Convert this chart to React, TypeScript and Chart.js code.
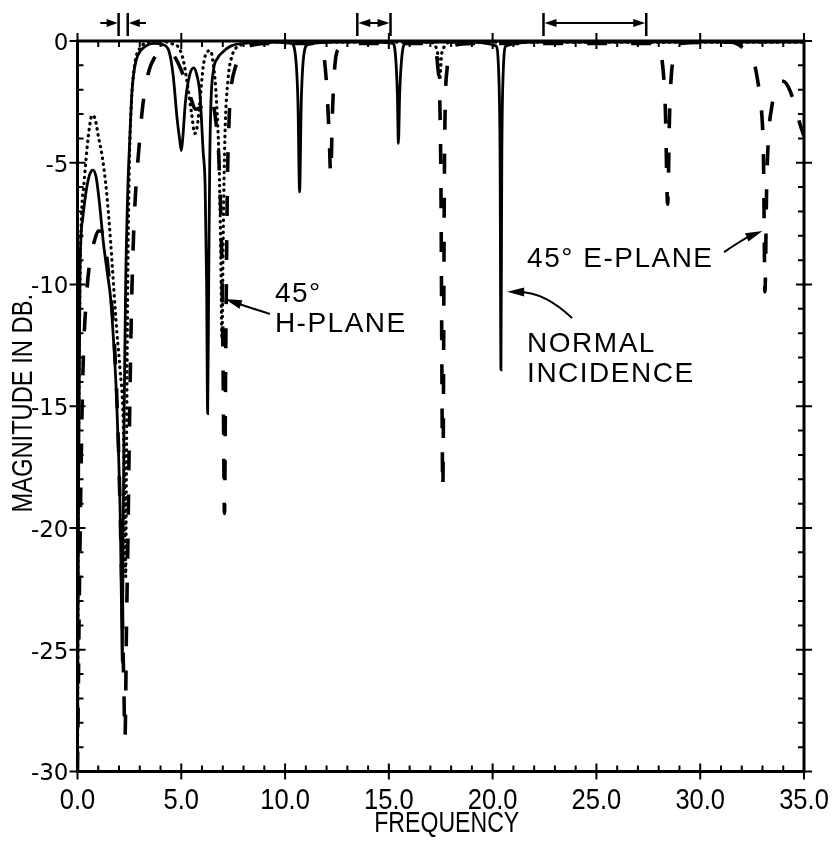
import { useEffect, useRef } from "react";
import { Chart, registerables } from "chart.js";

Chart.register(...registerables);

// ---- axis ticks ----
const xTickValues = [0, 5, 10, 15, 20, 25, 30, 35];
const yTickValues = [0, -5, -10, -15, -20, -25, -30];
const xTitle = "FREQUENCY";
const yTitle = "MAGNITUDE IN DB.";

// ---- NORMAL INCIDENCE (solid) ----
const normalX = [0, 0.05, 0.12, 0.25, 0.41, 0.58, 0.74, 0.9, 1.05, 1.25, 1.45, 1.6, 1.75, 1.87, 1.98, 2.07, 2.13, 2.16, 2.2, 2.25, 2.32, 2.42, 2.52, 2.63, 2.75, 2.9, 3.3, 3.7, 4.1, 4.4, 4.6, 4.8, 4.93, 5.0, 5.07, 5.2, 5.4, 5.6, 5.75, 5.9, 6.05, 6.15, 6.22, 6.27, 6.32, 6.37, 6.43, 6.55, 6.75, 7.0, 7.4, 8.0, 9.0, 10.3, 10.5, 10.62, 10.7, 10.78, 10.9, 11.1, 12.5, 14.0, 15.2, 15.33, 15.41, 15.46, 15.52, 15.62, 15.8, 17.5, 19.0, 20.15, 20.3, 20.36, 20.4, 20.44, 20.5, 20.65, 22.0, 25.0, 28.0, 31.0, 33.0, 35.0];
const normalY = [-30, -19, -9.5, -7.3, -6.2, -5.5, -5.3, -5.6, -6.6, -8.3, -9.6, -10.6, -12.5, -14.4, -17, -20, -24, -25.5, -20, -15, -10, -6.2, -4, -2, -1.1, -0.6, -0.2, -0.1, -0.15, -0.4, -1.35, -3.2, -4.1, -4.5, -4, -2.5, -1.4, -1.1, -1.4, -2.2, -4.5, -6, -10, -15.3, -10, -5, -2.5, -1.2, -0.7, -0.45, -0.2, -0.1, -0.05, -0.1, -0.6, -2.5, -6.2, -2.5, -0.6, -0.15, -0.05, -0.05, -0.1, -0.7, -2.2, -4.2, -2.2, -0.7, -0.1, -0.05, -0.05, -0.2, -1.5, -5, -13.5, -5, -1.5, -0.2, -0.05, -0.05, -0.05, -0.05, -0.05, -0.05];

// ---- 45° H-PLANE (dotted) ----
const hPlaneX = [0, 0.05, 0.12, 0.2, 0.3, 0.45, 0.6, 0.7, 0.85, 1.0, 1.2, 1.4, 1.6, 1.75, 1.9, 2.05, 2.2, 2.28, 2.32, 2.36, 2.42, 2.5, 2.6, 2.75, 3.0, 3.5, 4.0, 4.5, 4.9, 5.1, 5.3, 5.5, 5.65, 5.75, 5.9, 6.05, 6.2, 6.4, 6.55, 6.7, 6.82, 6.9, 6.96, 7.02, 7.1, 7.25, 7.45, 7.8, 8.5, 12.0, 17.0, 17.35, 17.45, 17.55, 18.0, 22.0, 28.0, 35.0];
const hPlaneY = [-30, -17, -10, -7, -6.0, -4.5, -3.4, -3.05, -3.2, -3.9, -4.8, -6.2, -8.3, -10.2, -12, -13.5, -15.5, -19, -22, -17, -10, -5, -2.5, -1.0, -0.3, -0.05, 0, -0.1, -0.3, -0.8, -1.8, -3.0, -3.8, -3.6, -2.5, -1.1, -0.5, -0.4, -1.0, -2.5, -5, -8.5, -12.2, -8, -4, -1.6, -0.6, -0.2, -0.05, -0.05, -0.05, -0.5, -1.6, -0.5, -0.05, -0.05, -0.05, -0.05];

// ---- 45° E-PLANE (dashed) ----
const ePlaneX = [0, 0.1, 0.25, 0.45, 0.65, 0.82, 1.0, 1.15, 1.35, 1.55, 1.75, 1.95, 2.1, 2.22, 2.29, 2.36, 2.42, 2.5, 2.6, 2.7, 2.8, 2.95, 3.1, 3.25, 3.45, 3.7, 4.0, 4.3, 4.6, 5.0, 5.4, 5.7, 5.95, 6.2, 6.45, 6.65, 6.82, 6.95, 7.02, 7.08, 7.14, 7.22, 7.3, 7.38, 7.6, 8.0, 8.5, 9.5, 11.6, 11.85, 12.0, 12.12, 12.2, 12.28, 12.4, 12.6, 13.0, 17.1, 17.35, 17.5, 17.6, 17.68, 17.8, 18.1, 19.0, 27.9, 28.15, 28.32, 28.43, 28.53, 28.7, 29.0, 31.5, 31.85, 32.15, 32.4, 32.6, 32.8, 32.95, 33.05, 33.12, 33.2, 33.3, 33.43, 33.7, 34.0, 34.25, 34.55, 34.8, 35.0];
const ePlaneY = [-30, -22, -14, -10.3, -8.8, -8.2, -7.8, -7.8, -8.5, -10, -12, -16, -21, -26, -28.6, -24, -21, -16, -11, -8, -6.2, -4.5, -3, -2, -1.2, -0.7, -0.45, -0.4, -0.55, -1.2, -2.2, -2.8, -2.7, -2.3, -2.4, -3.2, -5, -9, -14, -19.4, -13, -6, -3.3, -2.1, -1.1, -0.4, -0.15, -0.1, -0.1, -0.5, -1.8, -3.8, -5.5, -3, -1, -0.3, -0.1, -0.1, -1.0, -5, -18.4, -5, -1.2, -0.2, -0.1, -0.1, -0.7, -2.8, -6.7, -2.8, -0.7, -0.1, -0.05, -0.15, -0.35, -0.5, -0.9, -1.8, -2.8, -5, -10.3, -6, -3.8, -2.8, -1.8, -1.65, -1.9, -2.6, -3.4, -3.9];

// ---- annotations (data coordinates) ----
const noteTexts = ["45°", "H-PLANE", "NORMAL", "INCIDENCE", "45° E-PLANE"];
const noteX = [9.51, 9.51, 21.66, 21.66, 21.66];
const noteY = [-10.72, -11.95, -12.77, -14.0, -9.28];

// arrows: tail -> control -> head
const arrowTailX = [9.27, 23.83, 31.15];
const arrowTailY = [-11.21, -11.38, -8.67];
const arrowCtrlX = [8.07, 22.52, 32.16];
const arrowCtrlY = [-10.88, -10.31, -8.09];
const arrowHeadX = [7.1, 20.7, 33.0];
const arrowHeadY = [-10.6, -10.3, -7.8];

// band brackets above the top axis
const bracketStart = [1.98, 13.48, 22.45];
const bracketEnd = [2.42, 15.08, 27.4];
const bracketInward = [true, false, false];

const FONT_SANS = "'Liberation Sans', 'DejaVu Sans', sans-serif";
const FONT_TICK_Y = "'DejaVu Sans', 'Liberation Sans', sans-serif";

function pts(xs: number[], ys: number[]) {
  return xs.map((x, i) => ({ x, y: ys[i] }));
}

function drawHead(ctx: CanvasRenderingContext2D, x: number, y: number, ang: number, len: number, half: number) {
  ctx.beginPath();
  ctx.moveTo(x, y);
  ctx.lineTo(x - len * Math.cos(ang) + half * Math.sin(ang), y - len * Math.sin(ang) - half * Math.cos(ang));
  ctx.lineTo(x - len * Math.cos(ang) - half * Math.sin(ang), y - len * Math.sin(ang) + half * Math.cos(ang));
  ctx.closePath();
  ctx.fill();
}

function scaledText(ctx: CanvasRenderingContext2D, text: string, x: number, y: number, sx: number, rot = 0) {
  ctx.save();
  ctx.translate(x, y);
  if (rot) ctx.rotate(rot);
  ctx.scale(sx, 1);
  ctx.fillText(text, 0, 0);
  ctx.restore();
}

export default function App() {
  const ref = useRef<HTMLCanvasElement>(null);

  useEffect(() => {
    document.body.style.margin = "0";
    const canvas = ref.current;
    if (!canvas) return;

    const framePlugin = {
      id: "frameTicks",
      afterDraw(chart: any) {
        const { ctx, chartArea: a, scales } = chart;
        const xs = scales.x;
        const ys = scales.y;
        ctx.save();
        ctx.strokeStyle = "#000";
        ctx.fillStyle = "#000";
        ctx.lineCap = "butt";
        ctx.lineWidth = 3;
        ctx.strokeRect(a.left, a.top, a.right - a.left, a.bottom - a.top);
        ctx.lineWidth = 2;
        for (let v = 0; v <= 35; v++) {
          const px = xs.getPixelForValue(v);
          ctx.beginPath();
          if (v % 5 === 0) {
            ctx.moveTo(px, a.bottom - 8); ctx.lineTo(px, a.bottom + 8);
            ctx.moveTo(px, a.top - 8); ctx.lineTo(px, a.top + 8);
          } else {
            ctx.moveTo(px, a.bottom); ctx.lineTo(px, a.bottom - 6);
            ctx.moveTo(px, a.top); ctx.lineTo(px, a.top + 6);
          }
          ctx.stroke();
        }
        for (let v = -30; v <= 0; v++) {
          const py = ys.getPixelForValue(v);
          ctx.beginPath();
          if (v % 5 === 0) {
            ctx.moveTo(a.left - 8, py); ctx.lineTo(a.left + 8, py);
            ctx.moveTo(a.right - 8, py); ctx.lineTo(a.right + 8, py);
          } else {
            ctx.moveTo(a.left, py); ctx.lineTo(a.left + 6, py);
            ctx.moveTo(a.right, py); ctx.lineTo(a.right - 6, py);
          }
          ctx.stroke();
        }

        // x tick labels (condensed)
        ctx.font = `30px ${FONT_SANS}`;
        ctx.textAlign = "center";
        ctx.textBaseline = "alphabetic";
        xTickValues.forEach((v) => {
          scaledText(ctx, v.toFixed(1), xs.getPixelForValue(v), a.bottom + 37, 0.85);
        });

        // y tick labels
        ctx.font = `23px ${FONT_TICK_Y}`;
        ctx.textAlign = "right";
        ctx.textBaseline = "middle";
        yTickValues.forEach((v) => {
          ctx.fillText(String(v), a.left - 9, ys.getPixelForValue(v) + 3);
        });

        // axis titles (condensed)
        ctx.font = `30px ${FONT_SANS}`;
        ctx.textAlign = "center";
        ctx.textBaseline = "alphabetic";
        scaledText(ctx, xTitle, (a.left + a.right) / 2 + 6, a.bottom + 60.5, 0.77);
        scaledText(ctx, yTitle, 32, (a.top + a.bottom) / 2 - 3, 0.79, -Math.PI / 2);
        ctx.restore();
      },
    };

    const notesPlugin = {
      id: "notes",
      afterDatasetsDraw(chart: any) {
        const { ctx, chartArea: a, scales } = chart;
        const xs = scales.x;
        const ys = scales.y;
        ctx.save();
        ctx.fillStyle = "#000";
        ctx.strokeStyle = "#000";
        ctx.font = `28px ${FONT_SANS}`;
        (ctx as any).letterSpacing = "1.5px";
        ctx.textAlign = "left";
        ctx.textBaseline = "alphabetic";
        noteTexts.forEach((t, i) => {
          ctx.fillText(t, xs.getPixelForValue(noteX[i]), ys.getPixelForValue(noteY[i]));
        });
        (ctx as any).letterSpacing = "0px";

        // curved arrows
        ctx.lineWidth = 2;
        arrowTailX.forEach((_, i) => {
          const tx = xs.getPixelForValue(arrowTailX[i]);
          const ty = ys.getPixelForValue(arrowTailY[i]);
          const cx = xs.getPixelForValue(arrowCtrlX[i]);
          const cy = ys.getPixelForValue(arrowCtrlY[i]);
          const hx = xs.getPixelForValue(arrowHeadX[i]);
          const hy = ys.getPixelForValue(arrowHeadY[i]);
          const ang = Math.atan2(hy - cy, hx - cx);
          const sx = hx - 12 * Math.cos(ang);
          const sy = hy - 12 * Math.sin(ang);
          ctx.beginPath();
          ctx.moveTo(tx, ty);
          ctx.quadraticCurveTo(cx, cy, sx, sy);
          ctx.stroke();
          drawHead(ctx, hx, hy, ang, 17, 4.5);
        });

        // brackets above top axis
        const barTop = a.top - 28;
        const barBot = a.top - 5;
        const shaftY = a.top - 18;
        bracketStart.forEach((s, i) => {
          const x1 = xs.getPixelForValue(s);
          const x2 = xs.getPixelForValue(bracketEnd[i]);
          ctx.lineWidth = 2.5;
          ctx.beginPath();
          ctx.moveTo(x1, barTop); ctx.lineTo(x1, barBot);
          ctx.moveTo(x2, barTop); ctx.lineTo(x2, barBot);
          ctx.stroke();
          ctx.lineWidth = 2;
          if (bracketInward[i]) {
            const ext = xs.getPixelForValue(0.88) - xs.getPixelForValue(0);
            ctx.beginPath();
            ctx.moveTo(x1 - ext, shaftY); ctx.lineTo(x1 - 6, shaftY);
            ctx.moveTo(x2 + ext, shaftY); ctx.lineTo(x2 + 6, shaftY);
            ctx.stroke();
            drawHead(ctx, x1 - 1, shaftY, 0, 11, 4);
            drawHead(ctx, x2 + 1, shaftY, Math.PI, 11, 4);
          } else {
            ctx.beginPath();
            ctx.moveTo(x1 + 6, shaftY); ctx.lineTo(x2 - 6, shaftY);
            ctx.stroke();
            drawHead(ctx, x1 + 1, shaftY, Math.PI, 12, 4);
            drawHead(ctx, x2 - 1, shaftY, 0, 12, 4);
          }
        });
        ctx.restore();
      },
    };

    const chart = new Chart(canvas, {
      type: "scatter",
      data: {
        datasets: [
          {
            label: "NORMAL INCIDENCE",
            data: pts(normalX, normalY),
            showLine: true,
            borderColor: "#000",
            borderWidth: 2.8,
            pointRadius: 0,
            cubicInterpolationMode: "monotone",
          },
          {
            label: "45° H-PLANE",
            data: pts(hPlaneX, hPlaneY),
            showLine: true,
            borderColor: "#000",
            borderWidth: 3.2,
            borderDash: [0.5, 5.5],
            borderCapStyle: "round",
            pointRadius: 0,
            cubicInterpolationMode: "monotone",
          },
          {
            label: "45° E-PLANE",
            data: pts(ePlaneX, ePlaneY),
            showLine: true,
            borderColor: "#000",
            borderWidth: 3.6,
            borderDash: [20, 24],
            pointRadius: 0,
            cubicInterpolationMode: "monotone",
          },
        ],
      },
      options: {
        responsive: false,
        animation: false,
        events: [],
        layout: { padding: { top: 41, right: 35, left: 0, bottom: 0 } },
        plugins: { legend: { display: false }, tooltip: { enabled: false } },
        scales: {
          x: {
            type: "linear",
            min: 0,
            max: 35,
            afterFit(scale: any) { scale.height = 70.5; },
            afterBuildTicks(scale: any) { scale.ticks = xTickValues.map((v) => ({ value: v })); },
            grid: { display: false, drawTicks: false },
            border: { display: false },
            ticks: { display: false },
            title: { display: false },
          },
          y: {
            type: "linear",
            min: -30,
            max: 0,
            afterFit(scale: any) { scale.width = 77.5; },
            afterBuildTicks(scale: any) { scale.ticks = yTickValues.map((v) => ({ value: v })); },
            grid: { display: false, drawTicks: false },
            border: { display: false },
            ticks: { display: false },
            title: { display: false },
          },
        },
      },
      plugins: [framePlugin, notesPlugin],
    } as any);

    return () => chart.destroy();
  }, []);

  return (
    <div style={{ position: "absolute", left: 0, top: 0, width: 839, height: 842, background: "#fff" }}>
      <canvas ref={ref} width={839} height={842} style={{ display: "block", width: 839, height: 842 }} />
    </div>
  );
}
